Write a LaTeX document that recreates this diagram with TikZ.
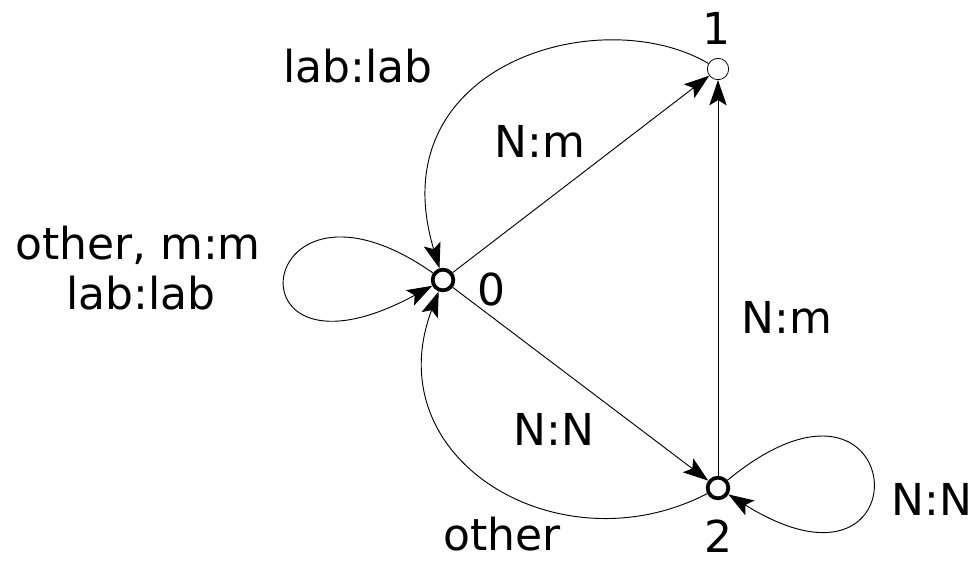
\documentclass[tikz,border=0pt]{standalone}
\usepackage{fontspec}
\setmainfont{DejaVu Sans}
\usetikzlibrary{arrows.meta}

\begin{document}
\begin{tikzpicture}[
		x=0.75pt, y=-0.75pt,
		bigstate/.style={draw, circle, line width=2.8pt, minimum size=15.5pt, inner sep=0pt},
		smallstate/.style={draw, circle, line width=0.6pt, minimum size=16pt, inner sep=0pt},
		lbl/.style={font=\fontsize{33}{40}\selectfont, inner sep=0pt, anchor=base},
		arrow/.style={-{Stealth[length=19pt, width=13pt, inset=4pt]}, line width=0.7pt}
	]
		\useasboundingbox (0,0) rectangle (973,561);
		% states
		\node[bigstate] (s0) at (443,280) {};
		\node[smallstate] (s1) at (718,69) {};
		\node[bigstate] (s2) at (718,488) {};
		% state numbers
		\node[lbl] (num0) at (491,305) {0};
		\node[lbl] (num1) at (716,44) {1};
		\node[lbl] (num2) at (718,552) {2};
		% straight transitions
		\foreach \a/\b in {s0/s1,s2/s1,s0/s2}
			\draw[arrow] (\a) -- (\b);
		% curved transitions and loops
		\draw[arrow] (s1) .. controls (600,0) and (378,65) .. (s0);
		\draw[arrow] (s0) .. controls (253,147) and (221,400) .. (s0);
		\draw[arrow] (s2) .. controls (560,570) and (375,460) .. (s0);
		\draw[arrow] (s2) .. controls (910,330) and (930,620) .. (s2);
		% labels
		\node[lbl] (l10) at (358,82) {lab:lab};
		\node[lbl] (l01) at (540,157) {N:m};
		\node[lbl] (l00a) at (138,259) {other, m:m};
		\node[lbl] (l00b) at (141,309) {lab:lab};
		\node[lbl] (l21) at (787,333) {N:m};
		\node[lbl] (l02) at (554,445) {N:N};
		\node[lbl] (l20) at (502,550) {other};
		\node[lbl] (l22) at (932,515) {N:N};
	\end{tikzpicture}
\end{document}
